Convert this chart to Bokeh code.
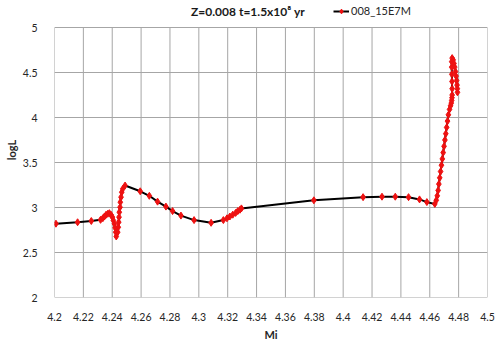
from bokeh.plotting import figure
from bokeh.models import Range1d, FixedTicker, Legend, Label, Title
from bokeh.embed import file_html
from bokeh.resources import INLINE

title_text = "Z=0.008 t=1.5x10\u2078 yr"
series_name = "008_15E7M"
x_label = "Mi"
y_label = "logL"

x_ticks = [4.2, 4.22, 4.24, 4.26, 4.28, 4.3, 4.32, 4.34, 4.36, 4.38, 4.4, 4.42, 4.44, 4.46, 4.48, 4.5]
x_tick_labels = ["4.2", "4.22", "4.24", "4.26", "4.28", "4.3", "4.32", "4.34", "4.36", "4.38",
                 "4.4", "4.42", "4.44", "4.46", "4.48", "4.5"]
y_ticks = [2, 2.5, 3, 3.5, 4, 4.5, 5]
y_tick_labels = ["2", "2.5", "3", "3.5", "4", "4.5", "5"]

mi = [4.2010, 4.2160, 4.2255, 4.2319, 4.2335, 4.2346, 4.2357, 4.2369, 4.2380, 4.2392,
      4.2401, 4.2408, 4.2415, 4.2420, 4.2424, 4.2428, 4.2438, 4.2442, 4.2445, 4.2447,
      4.2449, 4.2454, 4.2456, 4.2461, 4.2466, 4.2473, 4.2489,
      4.2594, 4.2657, 4.2714, 4.2772, 4.2818, 4.2876, 4.2967, 4.3085, 4.3170,
      4.3195, 4.3215, 4.3235, 4.3255, 4.3270, 4.3285, 4.3295,
      4.3797, 4.4138, 4.4269, 4.4361, 4.4453, 4.4529, 4.4580, 4.4635,
      4.4645, 4.4652, 4.4658, 4.4663, 4.4669, 4.4675, 4.4681, 4.4687, 4.4693, 4.4699,
      4.4705, 4.4711, 4.4717, 4.4723, 4.4729, 4.4737, 4.4744, 4.4749, 4.4752, 4.4754,
      4.4755, 4.4755, 4.4754, 4.4753, 4.4752, 4.4752, 4.4755,
      4.4762, 4.4768, 4.4773, 4.4778, 4.4782, 4.4786, 4.4789, 4.4791, 4.4792]
logl = [2.820, 2.836, 2.850, 2.863, 2.881, 2.900, 2.919, 2.930, 2.937, 2.919,
        2.893, 2.856, 2.819, 2.774, 2.726, 2.678, 2.726, 2.781, 2.837, 2.893,
        2.948, 3.003, 3.059, 3.115, 3.170, 3.207, 3.244,
        3.180, 3.130, 3.065, 3.010, 2.960, 2.910, 2.860, 2.830, 2.860,
        2.880, 2.900, 2.920, 2.940, 2.960, 2.975, 2.990,
        3.080, 3.115, 3.120, 3.120, 3.115, 3.090, 3.060, 3.040,
        3.080, 3.130, 3.190, 3.260, 3.330, 3.400, 3.470, 3.540, 3.610, 3.680,
        3.750, 3.820, 3.890, 3.960, 4.030, 4.090, 4.130, 4.160, 4.190, 4.220,
        4.250, 4.320, 4.400, 4.480, 4.560, 4.620, 4.660,
        4.640, 4.600, 4.560, 4.510, 4.460, 4.410, 4.360, 4.320, 4.280]

FONT = "Lato"
GRID = "#a6a6a6"
X0, X1 = x_ticks[0], x_ticks[-1]
Y0, Y1 = y_ticks[0], y_ticks[-1]

p = figure(width=500, height=347, output_backend="svg", toolbar_location=None,
           x_range=Range1d(X0, X1), y_range=Range1d(Y0, 5.2778),
           min_border_left=53, min_border_right=13, min_border_top=2, min_border_bottom=50)
p.background_fill_color = "white"
p.border_fill_color = "white"
p.outline_line_color = None
p.grid.visible = False

p.xaxis.ticker = FixedTicker(ticks=x_ticks)
p.yaxis.ticker = FixedTicker(ticks=y_ticks)
p.xaxis.major_label_overrides = {t: s for t, s in zip(x_ticks, x_tick_labels)}
p.yaxis.major_label_overrides = {t: s for t, s in zip(y_ticks, y_tick_labels)}
p.yaxis.bounds = (Y0, Y1)
for ax in (p.xaxis, p.yaxis):
    ax.axis_line_color = None
    ax.major_tick_line_color = None
    ax.minor_tick_line_color = None
    ax.major_label_text_font = FONT
    ax.major_label_text_font_size = "10.5px"
    ax.major_label_text_color = "#262626"
    ax.axis_label_text_font = FONT
    ax.axis_label_text_font_style = "bold"
    ax.axis_label_text_font_size = "11px"
    ax.axis_label_text_color = "#262626"
p.xaxis.axis_label = x_label
p.xaxis.major_label_standoff = 9
p.yaxis.major_label_standoff = 11
p.xaxis.axis_label_standoff = 4

# y axis title, placed higher than the centre as in the reference
p.add_layout(Title(text=y_label, align="center", offset=37, standoff=4,
                   text_font=FONT, text_font_style="bold", text_font_size="11px",
                   text_color="#262626"), "left")

# grid lines (frame extends above the plotting box to hold the title and legend)
p.segment(x0=x_ticks, y0=[Y0] * len(x_ticks), x1=x_ticks, y1=[Y1] * len(x_ticks),
          line_color=GRID, line_width=1)
p.segment(x0=[X0] * len(y_ticks), y0=y_ticks, x1=[X1] * len(y_ticks), y1=y_ticks,
          line_color=GRID, line_width=1)

line_r = p.line(mi, logl, line_color="black", line_width=2)
mark_r = p.scatter(mi, logl, marker="diamond", size=7, fill_color="#ee1111", line_color="#ee1111")

legend = Legend(items=[(series_name, [line_r, mark_r])], location=(279, 280),
                padding=0, margin=0, spacing=0, glyph_width=16, glyph_height=12,
                label_standoff=2, border_line_alpha=0, background_fill_alpha=0,
                label_text_font=FONT, label_text_font_size="11px", label_text_color="#262626",
                label_height=12)
p.add_layout(legend, "center")

p.add_layout(Label(x=4.3341, y=Y1, y_offset=16, text=title_text, text_align="center",
                   text_baseline="middle", text_font=FONT, text_font_style="bold",
                   text_font_size="12px", text_color="#1a1a1a"))

open("out.html", "w").write(file_html(p, INLINE))
